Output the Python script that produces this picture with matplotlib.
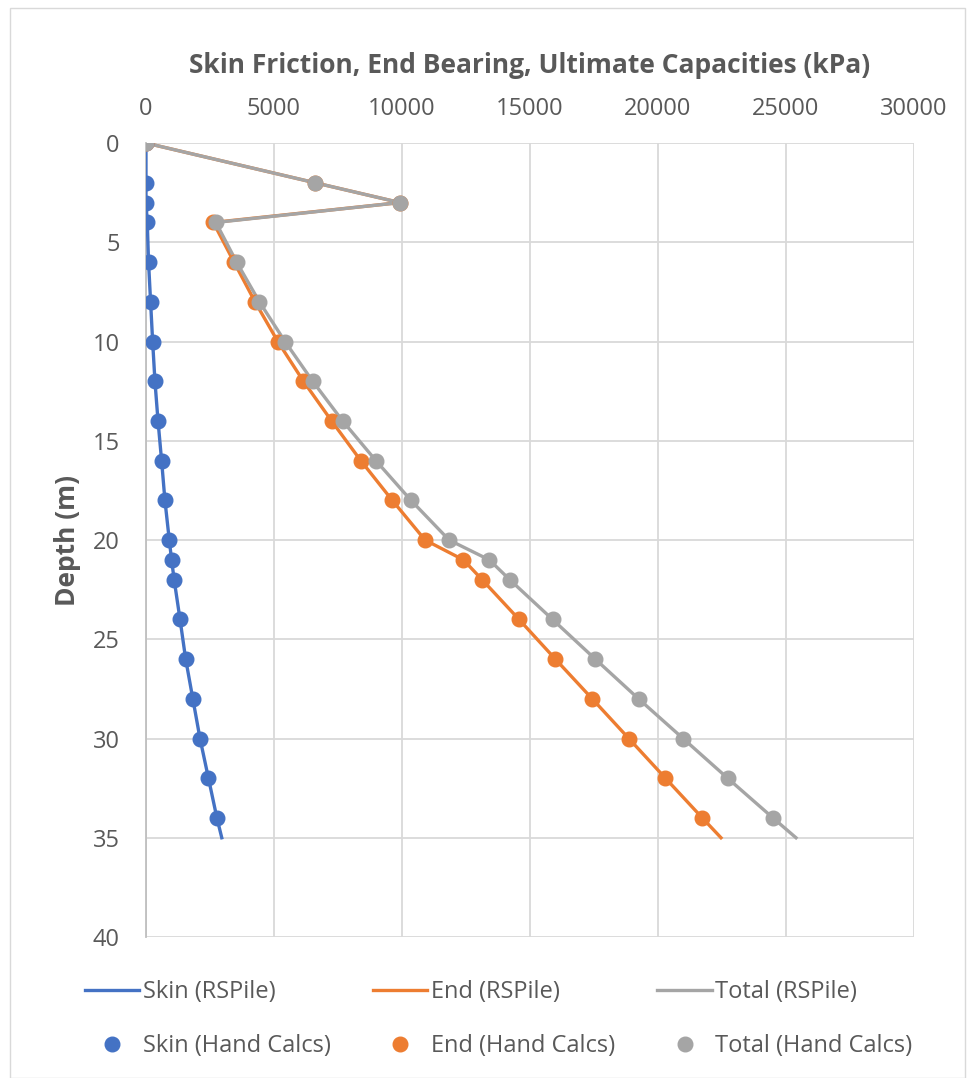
import matplotlib.pyplot as plt
from matplotlib.patches import Rectangle

# depths (m)
depth_hand = [0, 2, 3, 4, 6, 8, 10, 12, 14, 16, 18, 20, 21, 22, 24, 26, 28, 30, 32, 34]
depth_rs = depth_hand + [35]

# hand calcs (kPa)
skin_hand = [0, 0, 0, 50, 100, 180, 260, 350, 470, 610, 740, 910, 1000,
             1100, 1330, 1550, 1830, 2110, 2440, 2770]
end_hand = [0, 6600, 9920, 2630, 3440, 4260, 5150, 6150, 7250, 8390, 9620,
            10900, 12400, 13130, 14570, 15990, 17430, 18860, 20290, 21730]
total_hand = [0, 6600, 9920, 2730, 3540, 4430, 5430, 6510, 7680, 8980, 10350,
              11840, 13410, 14210, 15880, 17550, 19240, 20980, 22720, 24490]

# RSPile (kPa)
skin_rs = skin_hand + [2960]
end_rs = end_hand + [22460]
total_rs = total_hand + [25390]

blue = '#4472C4'
orange = '#ED7D31'
grey = '#A5A5A5'
txt = '#595959'

plt.rcParams['font.family'] = ['Open Sans', 'DejaVu Sans']

fig = plt.figure(figsize=(9.7, 10.78), dpi=100)
fig.patches.append(Rectangle((0.01, 0.0), 0.985, 0.993, transform=fig.transFigure,
                             fill=False, edgecolor='#d9d9d9', linewidth=1))
ax = fig.add_axes([0.1505, 0.1308, 0.7918, 0.7365])

l1, = ax.plot(skin_rs, depth_rs, color=blue, lw=2.4, label='Skin (RSPile)', zorder=3)
l2, = ax.plot(end_rs, depth_rs, color=orange, lw=2.4, label='End (RSPile)', zorder=3)
l3, = ax.plot(total_rs, depth_rs, color=grey, lw=2.4, label='Total (RSPile)', zorder=3)
m1, = ax.plot(skin_hand, depth_hand, 'o', color=blue, ms=10.5, label='Skin (Hand Calcs)', zorder=4)
m2, = ax.plot(end_hand, depth_hand, 'o', color=orange, ms=10.5, label='End (Hand Calcs)', zorder=4)
m3, = ax.plot(total_hand, depth_hand, 'o', color=grey, ms=10.5, label='Total (Hand Calcs)', zorder=4)

ax.set_xlim(0, 30000)
ax.set_ylim(40, 0)
ax.set_xticks(range(0, 30001, 5000))
ax.set_yticks(range(0, 41, 5))
ax.xaxis.tick_top()
ax.xaxis.set_label_position('top')
ax.grid(True, color='#d9d9d9', lw=1.3)
ax.set_axisbelow(True)
for s in ['top', 'right', 'bottom']:
    ax.spines[s].set_visible(False)
ax.spines['left'].set_color('#bfbfbf')
ax.spines['left'].set_linewidth(1.3)
ax.tick_params(length=0, labelsize=17, colors=txt)
ax.tick_params(axis='x', pad=16)
ax.tick_params(axis='y', pad=19)
ax.set_xlabel('Skin Friction, End Bearing, Ultimate Capacities (kPa)',
              fontsize=19, fontweight='bold', color=txt, labelpad=17)
ax.set_ylabel('Depth (m)', fontsize=19, fontweight='bold', color=txt, labelpad=8)

fig.legend(handles=[l1, m1, l2, m2, l3, m3], ncol=3, loc='center',
           bbox_to_anchor=(0.514, 0.0547), frameon=False, fontsize=17,
           labelcolor=txt, handlelength=2.3, columnspacing=1.8,
           labelspacing=1.25, handletextpad=0.15)

fig.savefig('out.png', dpi=100)
